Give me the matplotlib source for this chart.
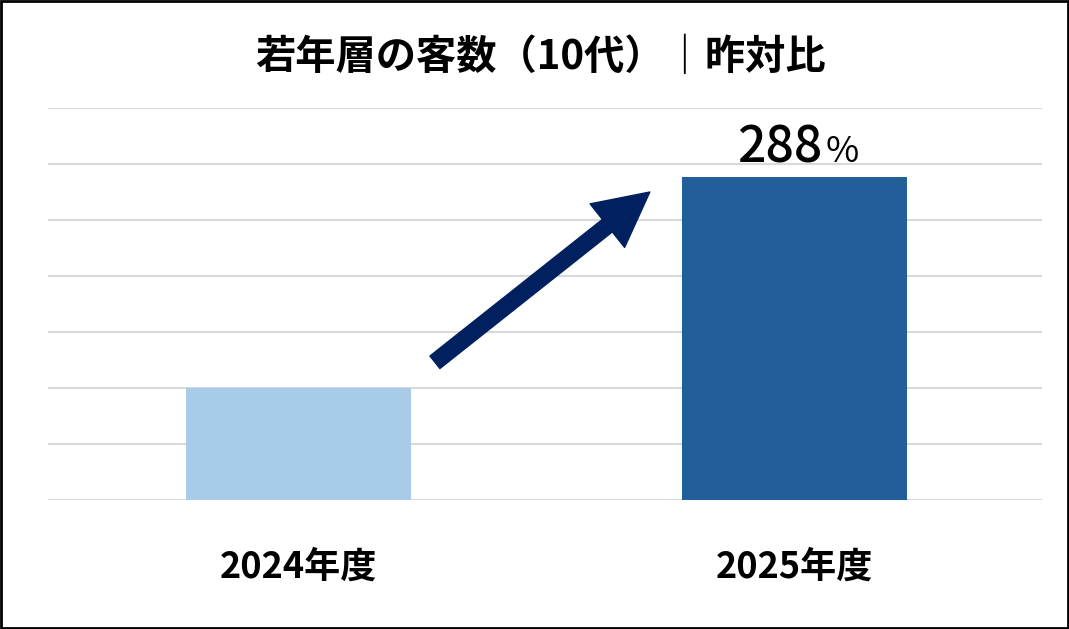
import matplotlib
matplotlib.use('Agg')
import matplotlib.pyplot as plt
from matplotlib.patches import Rectangle

plt.rcParams['font.family'] = ['Noto Sans CJK JP', 'DejaVu Sans']

# data
years = ['2024年度', '2025年度']
values = [100, 288]
colors = ['#A9CBEA', '#225E99']
title = '若年層の客数（10代）｜昨対比'
ratio_label = '288'

fig = plt.figure(figsize=(10.69, 6.29), dpi=100)
ax = fig.add_axes([0.0449, 0.205, 0.9298, 0.6233])

x = list(range(len(years)))
ax.bar(x, values, width=0.454, color=colors, zorder=3)

ax.set_ylim(0, 350)
ax.set_xlim(-0.505, 1.5)
ax.set_yticks(range(0, 351, 50))
ax.yaxis.grid(True, color='#d9d9d9', linewidth=1.5, zorder=0)
ax.tick_params(axis='y', left=False, labelleft=False)
ax.tick_params(axis='x', length=0, pad=35)
ax.set_xticks(x)
ax.set_xticklabels(years, fontsize=26, fontweight='bold')
for s in ax.spines.values():
    s.set_visible(False)

# label above the second bar
ax.annotate(ratio_label, xy=(x[1], values[1]), xytext=(20, 11), textcoords='offset points',
            ha='right', va='baseline', fontsize=36, fontweight='medium')
ax.annotate('%', xy=(x[1], values[1]), xytext=(23, 11), textcoords='offset points',
            ha='left', va='baseline', fontsize=26)

# arrow
ax.annotate('', xy=(0.709, 275), xytext=(0.2755, 123),
            arrowprops=dict(arrowstyle='simple,head_length=3.9,head_width=4.0,tail_width=1.15',
                            mutation_scale=10, color='#002060', shrinkA=0, shrinkB=0),
            zorder=4)

fig.text(0.506, 0.908, title, ha='center', va='center', fontsize=29, fontweight='bold')

fig.patches.append(Rectangle((0.001, 0.002), 0.998, 0.996, transform=fig.transFigure,
                             fill=False, edgecolor='black', linewidth=2))

fig.savefig('out.png', dpi=100)
